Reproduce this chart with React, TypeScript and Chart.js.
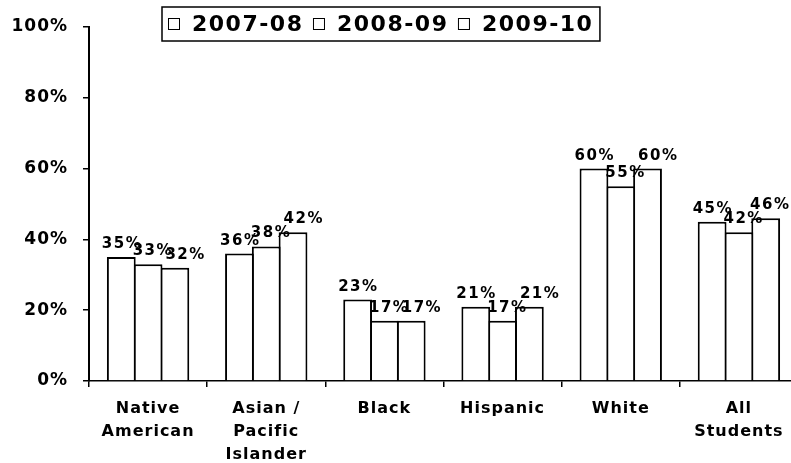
import React, { useEffect, useRef } from "react";
import { Chart, registerables } from "chart.js";

Chart.register(...registerables);

// Student groups shown along the x axis (multi-line labels)
const categories: string[][] = [
  ["Native", "American"],
  ["Asian /", "Pacific", "Islander"],
  ["Black"],
  ["Hispanic"],
  ["White"],
  ["All", "Students"],
];

// School years, one series each
const seriesLabels = ["2007-08", "2008-09", "2009-10"];

// Percent of students per group and year
const rate2007 = [35, 36, 23, 21, 60, 45];
const rate2008 = [33, 38, 17, 17, 55, 42];
const rate2009 = [32, 42, 17, 21, 60, 46];

// Y axis tick values (percent)
const yTicks = [0, 20, 40, 60, 80, 100];

const FONT = "'DejaVu Sans', Verdana, sans-serif";
const VISIBLE_WIDTH = 791;

// Horizontal nudge of the value labels for each series
const labelShift = [0, 4, 10];

// Slightly tracked-out text for the axis labels
const textSpacing = {
  id: "textSpacing",
  beforeLayout(chart: any) {
    (chart.ctx as any).letterSpacing = "1px";
  },
  beforeDraw(chart: any) {
    (chart.ctx as any).letterSpacing = "1px";
  },
};

const valueLabels = {
  id: "valueLabels",
  afterDatasetsDraw(chart: any) {
    const ctx = chart.ctx as CanvasRenderingContext2D;
    ctx.save();
    ctx.font = `bold 15px ${FONT}`;
    (ctx as any).letterSpacing = "1.5px";
    ctx.fillStyle = "#000";
    ctx.textAlign = "left";
    ctx.textBaseline = "alphabetic";
    chart.data.datasets.forEach((ds: any, i: number) => {
      const meta = chart.getDatasetMeta(i);
      meta.data.forEach((bar: any, j: number) => {
        const text = `${ds.data[j]}%`;
        const w = ctx.measureText(text).width - 1.5;
        // keep the label inside the visible page width
        const x = Math.min(bar.x + labelShift[i] - w / 2, VISIBLE_WIDTH - 2 - w);
        ctx.fillText(text, x, bar.y - 9);
      });
    });
    ctx.restore();
  },
};

// Framed legend with hollow squares above the plot
const boxedLegend = {
  id: "boxedLegend",
  afterDraw(chart: any) {
    const ctx = chart.ctx as CanvasRenderingContext2D;
    ctx.save();
    ctx.font = `bold 22px ${FONT}`;
    (ctx as any).letterSpacing = "1.5px";
    const labels: string[] = chart.data.datasets.map((d: any) => d.label);
    const widths = labels.map((t) => ctx.measureText(t).width - 1.5);
    const sq = 12;
    const gapSq = 12;
    const gapItem = 11;
    const padL = 6;
    const padR = 8;
    const left = chart.chartArea.left + 73;
    const top = 7;
    const height = 34;
    const total =
      padL +
      padR +
      widths.reduce((a, w) => a + sq + gapSq + w, 0) +
      gapItem * (widths.length - 1);
    ctx.fillStyle = "#fff";
    ctx.fillRect(left, top, total, height);
    ctx.strokeStyle = "#000";
    ctx.lineWidth = 1.5;
    ctx.strokeRect(left, top, total, height);
    const cy = top + height / 2;
    let x = left + padL;
    labels.forEach((t, i) => {
      ctx.lineWidth = 1;
      ctx.fillStyle = "#fff";
      ctx.fillRect(x + 0.5, Math.round(cy - sq / 2) + 0.5, sq - 1, sq - 1);
      ctx.strokeRect(x + 0.5, Math.round(cy - sq / 2) + 0.5, sq - 1, sq - 1);
      ctx.fillStyle = "#000";
      ctx.textAlign = "left";
      ctx.textBaseline = "middle";
      ctx.fillText(t, x + sq + gapSq, cy + 1);
      x += sq + gapSq + widths[i] + gapItem;
    });
    ctx.restore();
  },
};

export default function App() {
  const canvasRef = useRef<HTMLCanvasElement | null>(null);

  useEffect(() => {
    if (!canvasRef.current) return;
    const seriesData = [rate2007, rate2008, rate2009];
    const chart = new Chart(canvasRef.current, {
      type: "bar",
      data: {
        labels: categories,
        datasets: seriesLabels.map((label, i) => ({
          label,
          data: seriesData[i],
          backgroundColor: "#ffffff",
          borderColor: "#000000",
          borderWidth: 2,
          inflateAmount: 0,
          categoryPercentage: 0.68,
          // slight overlap so neighbouring bars share one outline
          barPercentage: 1.075,
        })),
      },
      options: {
        animation: false,
        responsive: false,
        devicePixelRatio: 1,
        events: [],
        layout: { padding: { top: 27, right: 2, left: 0, bottom: 0 } },
        plugins: {
          legend: { display: false },
          tooltip: { enabled: false },
        },
        scales: {
          x: {
            ticks: {
              color: "#000",
              font: { family: FONT, size: 16, weight: "bold", lineHeight: 23 / 16 },
              padding: 10,
              maxRotation: 0,
              autoSkip: false,
            },
            grid: {
              offset: true,
              drawOnChartArea: false,
              drawTicks: true,
              tickLength: 6,
              color: "#000",
              lineWidth: 1.5,
            },
            border: { display: true, color: "#000", width: 1.5 },
            afterFit: (s: any) => {
              s.height = 82;
            },
          },
          y: {
            min: 0,
            max: 100,
            afterBuildTicks: (s: any) => {
              s.ticks = yTicks.map((v) => ({ value: v }));
            },
            ticks: {
              color: "#000",
              font: { family: FONT, size: 17, weight: "bold" },
              padding: 15,
              callback: (v: any) => `${v}%`,
            },
            grid: {
              drawOnChartArea: false,
              drawTicks: true,
              tickLength: 6,
              color: "#000",
              lineWidth: 1.5,
            },
            border: { display: true, color: "#000", width: 2 },
            afterFit: (s: any) => {
              s.width = 89;
            },
          },
        },
      },
      plugins: [textSpacing, valueLabels, boxedLegend],
    });
    return () => chart.destroy();
  }, []);

  return (
    <div
      style={{
        position: "fixed",
        left: 0,
        top: 0,
        width: VISIBLE_WIDTH,
        height: 463,
        overflow: "hidden",
        background: "#fff",
      }}
    >
      <canvas ref={canvasRef} width={800} height={463} style={{ display: "block" }} />
    </div>
  );
}
